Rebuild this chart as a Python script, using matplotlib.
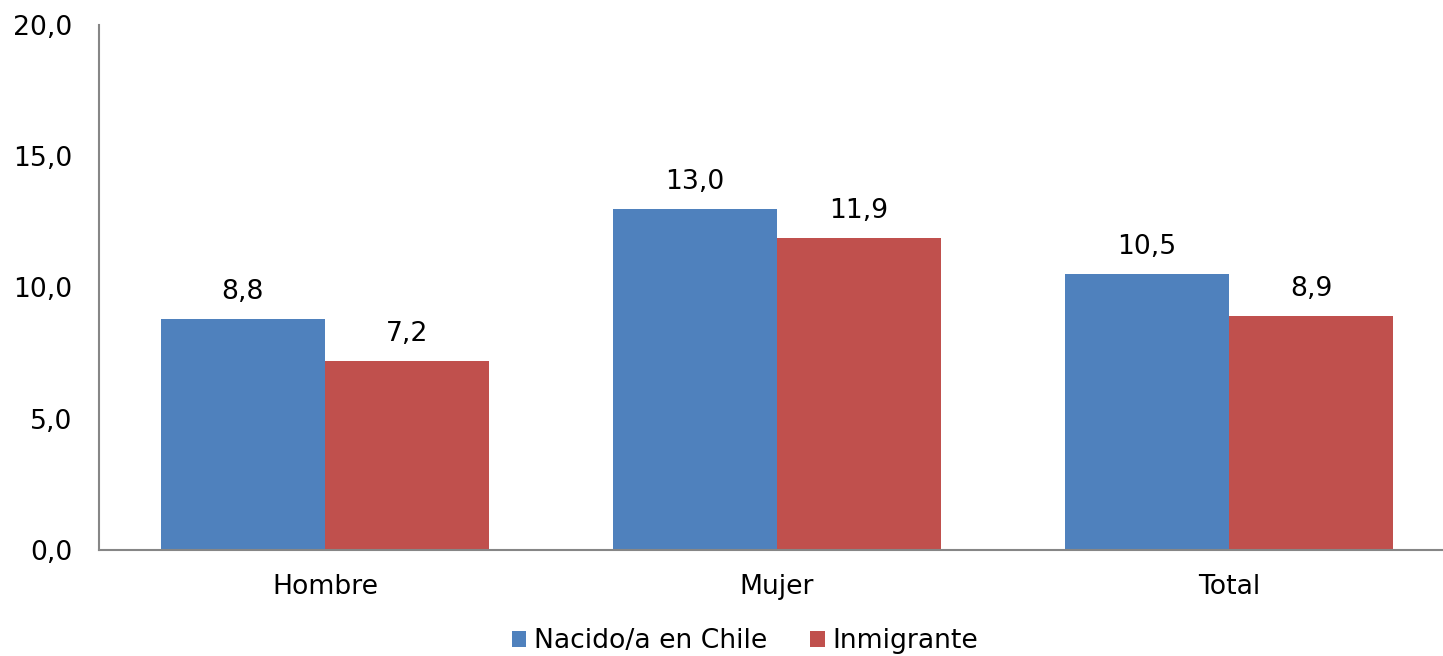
import matplotlib.pyplot as plt
import numpy as np

categories = ['Hombre', 'Mujer', 'Total']
nacido = [8.8, 13.0, 10.5]
inmigrante = [7.2, 11.9, 8.9]
yticks = [0, 5, 10, 15, 20]

fmt = lambda v: f'{v:.1f}'.replace('.', ',')
fs = 19.2

fig = plt.figure(figsize=(14.43, 6.56), dpi=100)
ax = fig.add_axes([99 / 1443, 1 - 550 / 656, 1 - 99 / 1443, 525 / 656])

x = np.arange(len(categories))
w = 0.363
b1 = ax.bar(x - w / 2, nacido, w, color='#4F81BD', label='Nacido/a en Chile')
b2 = ax.bar(x + w / 2, inmigrante, w, color='#C0504D', label='Inmigrante')

for bars, vals in [(b1, nacido), (b2, inmigrante)]:
    for b, v in zip(bars, vals):
        ax.annotate(fmt(v), (b.get_x() + b.get_width() / 2, v), xytext=(0, 10),
                    textcoords='offset points', ha='center', va='bottom', fontsize=fs)

ax.set_xlim(-0.5, 2.473)
ax.set_ylim(0, 20)
ax.set_xticks(x)
ax.set_xticklabels(categories, fontsize=fs)
ax.set_yticks(yticks)
ax.set_yticklabels([fmt(v) for v in yticks], fontsize=fs)
ax.tick_params(axis='y', length=0, pad=19)
ax.tick_params(axis='x', length=0, pad=17)

for s in ['top', 'right']:
    ax.spines[s].set_visible(False)
for s in ['left', 'bottom']:
    ax.spines[s].set_color('#868686')
    ax.spines[s].set_linewidth(1.5)

h, l = ax.get_legend_handles_labels()
fig.legend(h, l, loc='center', bbox_to_anchor=(745 / 1443, 1 - 641 / 656), ncol=2,
           frameon=False, fontsize=fs, handlelength=0.55, handleheight=0.55,
           handletextpad=0.3, columnspacing=1.6)

fig.savefig('out.png', dpi=100)
